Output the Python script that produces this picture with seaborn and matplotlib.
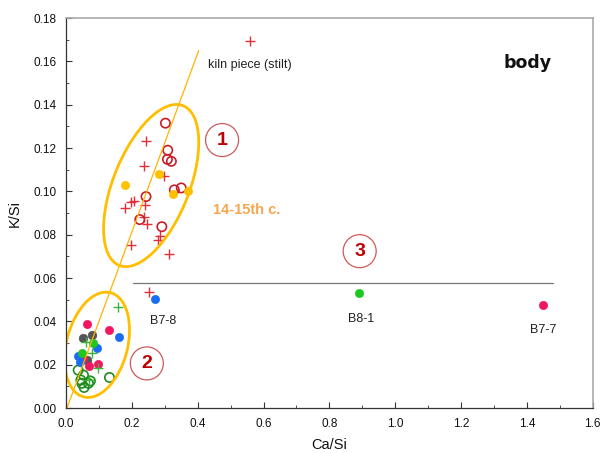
import matplotlib
matplotlib.use("Agg")
import matplotlib.pyplot as plt
import seaborn as sns
import numpy as np
import pandas as pd
from matplotlib.patches import Ellipse
from matplotlib.transforms import ScaledTranslation

# ---------------- data ----------------
# group 1 (14-15th c.)
red_cross_x = [0.244, 0.238, 0.299, 0.207, 0.197, 0.180, 0.241, 0.238, 0.246, 0.284, 0.278, 0.196, 0.314, 0.560, 0.253]
red_cross_y = [0.1234, 0.1117, 0.1073, 0.0954, 0.0951, 0.0922, 0.0936, 0.0884, 0.0850, 0.0793, 0.0776, 0.0752, 0.0710, 0.1694, 0.0535]
red_open_x = [0.302, 0.309, 0.308, 0.320, 0.329, 0.350, 0.243, 0.224, 0.291]
red_open_y = [0.1315, 0.1190, 0.1148, 0.1139, 0.1007, 0.1016, 0.0976, 0.0870, 0.0837]
yellow_x = [0.180, 0.282, 0.326, 0.370]
yellow_y = [0.1031, 0.1082, 0.0990, 0.1004]

# group 2 and outliers
pink_x = [0.065, 0.131, 0.053, 0.096, 0.069, 1.449]
pink_y = [0.0387, 0.0359, 0.0229, 0.0203, 0.0193, 0.0477]
blue_x = [0.161, 0.095, 0.037, 0.043, 0.271]
blue_y = [0.0328, 0.0278, 0.0239, 0.0213, 0.0503]
gray_x = [0.051, 0.078, 0.065]
gray_y = [0.0325, 0.0336, 0.0221]
green_x = [0.083, 0.049, 0.891]
green_y = [0.0298, 0.0252, 0.0531]
green_cross_x = [0.159, 0.061, 0.078, 0.098, 0.071]
green_cross_y = [0.0466, 0.0305, 0.0252, 0.0183, 0.0129]
green_open_x = [0.132, 0.037, 0.053, 0.045, 0.055, 0.068, 0.074, 0.048]
green_open_y = [0.0141, 0.0175, 0.0152, 0.0129, 0.0095, 0.0114, 0.0125, 0.0114]

sample_labels = ["B7-8", "B8-1", "B7-7"]
sample_label_x = [0.2935, 0.895, 1.449]
sample_label_y = [0.0400, 0.0413, 0.0362]

trend_x = [0.003, 0.403]
trend_y = [0.0, 0.165]
sep_x = [0.204, 1.479]
sep_y = [0.0579, 0.0579]

x_ticks = [0.0, 0.2, 0.4, 0.6, 0.8, 1.0, 1.2, 1.4, 1.6]
y_ticks = [0.00, 0.02, 0.04, 0.06, 0.08, 0.10, 0.12, 0.14, 0.16, 0.18]

# ---------------- style ----------------
sns.set_theme(style="white")
plt.rcParams['font.family'] = ['Liberation Sans', 'DejaVu Sans']

fig = plt.figure(figsize=(6.03, 4.53), dpi=100)
ax = fig.add_axes([0.1095, 0.0993, 0.8735, 0.8607])

RED = "#e0303a"
RED_OPEN = "#c81e28"
YEL = "#ffc000"
PINK = "#f2155f"
BLUE = "#1a6cf5"
GRAY = "#555555"
GREEN = "#1ec81e"
GREEN_D = "#1e8c1e"
GREEN_C = "#3cb43c"

def sc(x, y, **kw):
    df = pd.DataFrame({"x": x, "y": y})
    sns.scatterplot(data=df, x="x", y="y", ax=ax, legend=False, **kw)

sc(red_cross_x, red_cross_y, marker="+", s=48, color=RED, linewidth=1.0)
sc(red_open_x, red_open_y, marker="o", s=45, facecolors="none", edgecolor=RED_OPEN, linewidth=1.2)
sc(yellow_x, yellow_y, marker="o", s=35, color=YEL, edgecolor=YEL)
sc(green_open_x, green_open_y, marker="o", s=45, facecolors="none", edgecolor=GREEN_D, linewidth=1.2)
sc(gray_x, gray_y, marker="o", s=38, color=GRAY, edgecolor=GRAY)
sc(pink_x, pink_y, marker="o", s=35, color=PINK, edgecolor=PINK)
sc(blue_x, blue_y, marker="o", s=35, color=BLUE, edgecolor=BLUE)
sc(green_x, green_y, marker="o", s=35, color=GREEN, edgecolor=GREEN)
sc(green_cross_x, green_cross_y, marker="+", s=48, color=GREEN_C, linewidth=1.0)

ax.plot(trend_x, trend_y, color="#ffb300", lw=0.9, zorder=1)
ax.plot(sep_x, sep_y, color="#777777", lw=0.9, zorder=1)

for t, x, y in zip(sample_labels, sample_label_x, sample_label_y):
    ax.text(x, y, t, ha="center", va="center", fontsize=9, color="#222222")

ax.text(0.432, 0.1583, "kiln piece (stilt)", ha="left", va="center", fontsize=9, color="#222222")
ax.text(1.401, 0.1594, "body", ha="center", va="center", fontsize=12.5,
        fontweight="bold", family=["DejaVu Sans"], color="#111111")
ax.text(0.5496, 0.0915, "14-15th c.", ha="center", va="center", fontsize=10.5,
        fontweight="bold", color="#f5a64e")

# ellipses (sizes in pixels -> inches)
def disp_ellipse(cx, cy, a_px, b_px, ang, **kw):
    tr = fig.dpi_scale_trans + ScaledTranslation(cx, cy, ax.transData)
    e = Ellipse((0, 0), 2 * a_px / 100, 2 * b_px / 100, angle=ang, transform=tr,
                fill=False, **kw)
    ax.add_patch(e)

disp_ellipse(0.2586, 0.1027, 86, 38, 68.2, edgecolor="#ffbe00", lw=2.0, zorder=2)
disp_ellipse(0.0943, 0.0292, 53.8, 30.5, 75.5, edgecolor="#ffbe00", lw=2.0, zorder=2)

for num, x, y in [("1", 0.474, 0.1237), ("2", 0.2455, 0.0206), ("3", 0.892, 0.0724)]:
    disp_ellipse(x, y, 16.5, 16.5, 0, edgecolor="#d05a5a", lw=0.9, zorder=3)
    ax.text(x, y, num, ha="center", va="center", fontsize=14, fontweight="bold",
            color="#c00000")

ax.set_xlim(0, 1.6)
ax.set_ylim(0, 0.18)
ax.set_xticks(x_ticks)
ax.set_yticks(y_ticks)
ax.set_xticklabels([f"{v:.1f}" for v in x_ticks], fontsize=8.5)
ax.set_yticklabels([f"{v:.2f}" for v in y_ticks], fontsize=8.5)
ax.set_xticks(np.arange(0, 1.61, 0.1), minor=True)
ax.set_yticks(np.arange(0, 0.181, 0.01), minor=True)
ax.tick_params(which="both", direction="in", bottom=True, left=True, top=False, right=False,
               colors="#333333", labelcolor="#111111")
ax.tick_params(which="major", length=4, width=0.8)
ax.tick_params(axis="x", which="major", pad=7)
ax.tick_params(axis="y", which="major", pad=7)
ax.tick_params(which="minor", length=2.5, width=0.6)
ax.set_xlabel("Ca/Si", fontsize=10.5, color="#111111", labelpad=6)
ax.set_ylabel("K/Si", fontsize=10.5, color="#111111", labelpad=8)

for side in ["left", "bottom"]:
    ax.spines[side].set_color("#333333")
    ax.spines[side].set_linewidth(0.9)
for side in ["top", "right"]:
    ax.spines[side].set_color("#aaaaaa")
    ax.spines[side].set_linewidth(1.2)

fig.savefig("out.png", dpi=100)
